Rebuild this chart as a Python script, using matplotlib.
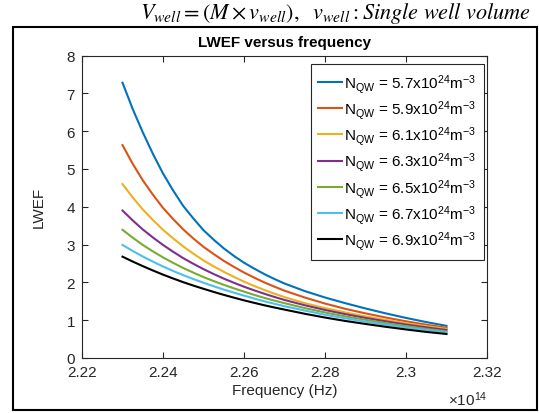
import numpy as np
import matplotlib
matplotlib.use("Agg")
import matplotlib.pyplot as plt
from matplotlib.patches import Rectangle
from matplotlib.ticker import FuncFormatter

plt.rcParams['font.family'] = ['Liberation Sans', 'DejaVu Sans']
plt.rcParams['mathtext.fontset'] = 'custom'
plt.rcParams['mathtext.rm'] = 'Liberation Sans'
plt.rcParams['mathtext.it'] = 'Liberation Sans:italic'
plt.rcParams['mathtext.bf'] = 'Liberation Sans:bold'

# frequency in units of 1e14 Hz (denser near the start where the curves bend most)
freq_e14 = [2.2300, 2.2325, 2.2350, 2.2375, 2.2400, 2.2425, 2.2450, 2.2475,
            2.2500, 2.2525, 2.2550, 2.2575, 2.2600, 2.2625, 2.2650, 2.2675,
            2.2700, 2.2750, 2.2800, 2.2850, 2.2900, 2.2950, 2.3000, 2.3050, 2.3100]

lwef_57 = [7.28, 6.59, 5.97, 5.40, 4.88, 4.43, 4.02, 3.69, 3.38, 3.13, 2.90, 2.70, 2.52,
           2.365, 2.22, 2.09, 1.97, 1.77, 1.60, 1.45, 1.31, 1.18, 1.06, 0.95, 0.85]
lwef_59 = [5.63, 5.14, 4.70, 4.32, 3.97, 3.674, 3.40, 3.16, 2.94, 2.75, 2.57, 2.41, 2.26,
           2.126, 2.00, 1.887, 1.78, 1.60, 1.44, 1.30, 1.18, 1.07, 0.97, 0.88, 0.80]
lwef_61 = [4.60, 4.25, 3.93, 3.65, 3.39, 3.162, 2.95, 2.759, 2.58, 2.425, 2.28, 2.146, 2.02,
           1.907, 1.80, 1.702, 1.61, 1.45, 1.32, 1.205, 1.10, 1.005, 0.92, 0.84, 0.77]
lwef_63 = [3.90, 3.641, 3.40, 3.188, 2.99, 2.81, 2.64, 2.491, 2.35, 2.221, 2.10, 1.99, 1.885,
           1.79, 1.70, 1.615, 1.535, 1.395, 1.27, 1.16, 1.06, 0.97, 0.885, 0.81, 0.74]
lwef_65 = [3.39, 3.184, 2.99, 2.82, 2.66, 2.516, 2.38, 2.257, 2.14, 2.035, 1.935, 1.843, 1.755,
           1.670, 1.59, 1.518, 1.45, 1.32, 1.205, 1.10, 1.01, 0.92, 0.845, 0.77, 0.705]
lwef_67 = [2.99, 2.833, 2.685, 2.549, 2.42, 2.302, 2.19, 2.088, 1.99, 1.898, 1.81, 1.728, 1.65,
           1.573, 1.50, 1.434, 1.37, 1.255, 1.145, 1.05, 0.96, 0.88, 0.81, 0.74, 0.68]
lwef_69 = [2.68, 2.552, 2.43, 2.315, 2.205, 2.103, 2.005, 1.915, 1.83, 1.748, 1.67, 1.596, 1.525,
           1.459, 1.395, 1.336, 1.28, 1.17, 1.07, 0.98, 0.90, 0.825, 0.755, 0.69, 0.635]

n_qw = ['5.7', '5.9', '6.1', '6.3', '6.5', '6.7', '6.9']
series = [lwef_57, lwef_59, lwef_61, lwef_63, lwef_65, lwef_67, lwef_69]
colors = ['#0072BD', '#D95319', '#EDB120', '#7E2F8E', '#77AC30', '#4DBEEE', '#000000']

freq = np.array(freq_e14) * 1e14

W, H = 539, 414
fig = plt.figure(figsize=(W / 100, H / 100), dpi=100)
ax = fig.add_axes([82 / W, 1 - 359 / H, (487 - 82) / W, (359 - 56.5) / H])

for vals, n, c in zip(series, n_qw, colors):
    ax.plot(freq, vals, color=c, lw=1.5,
            label=r'N$_{\mathrm{QW}}$ = ' + n + r'x10$^{24}$m$^{-3}$')

ax.set_xlim(2.22e14, 2.32e14)
ax.set_ylim(0, 8)
ax.set_xticks(np.arange(2.22, 2.3201, 0.02) * 1e14)
ax.set_yticks(range(0, 9))
ax.xaxis.set_major_formatter(FuncFormatter(lambda v, p: '%g' % round(v / 1e14, 4)))

dark = '#262626'
for s in ax.spines.values():
    s.set_color(dark)
    s.set_linewidth(0.8)
ax.tick_params(direction='in', length=4, width=0.8, colors=dark, labelsize=11,
               top=True, right=True, pad=5)

ax.set_title('LWEF versus frequency', fontsize=11, fontweight='bold', pad=7)
ax.set_xlabel('Frequency (Hz)', fontsize=11, color=dark, labelpad=3)
ax.set_ylabel('LWEF', fontsize=11, color=dark, labelpad=15)
ax.text(1.0, -0.135, r'$\times10^{14}$', transform=ax.transAxes, ha='right',
        va='center', fontsize=11, color=dark)

leg = ax.legend(loc='upper right', bbox_to_anchor=(0.9926, 0.9719), borderaxespad=0,
                fontsize=11, handlelength=1.55, handletextpad=0.15, labelspacing=0.22,
                borderpad=0.5, fancybox=False, framealpha=1, edgecolor=dark)
leg.get_frame().set_linewidth(0.8)

fig.text(336 / W, 1 - 14 / H,
         r'$V_{well} = (M\times v_{well}),\ \ v_{well}: Single\ well\ volume$',
         math_fontfamily='stix', fontsize=16, ha='center', va='center')

fig.add_artist(Rectangle((13 / W, 3 / H), (537 - 13) / W, (411 - 28) / H,
                         transform=fig.transFigure, fill=False, lw=1.5, ec='black'))

fig.savefig('out.png', dpi=100)
